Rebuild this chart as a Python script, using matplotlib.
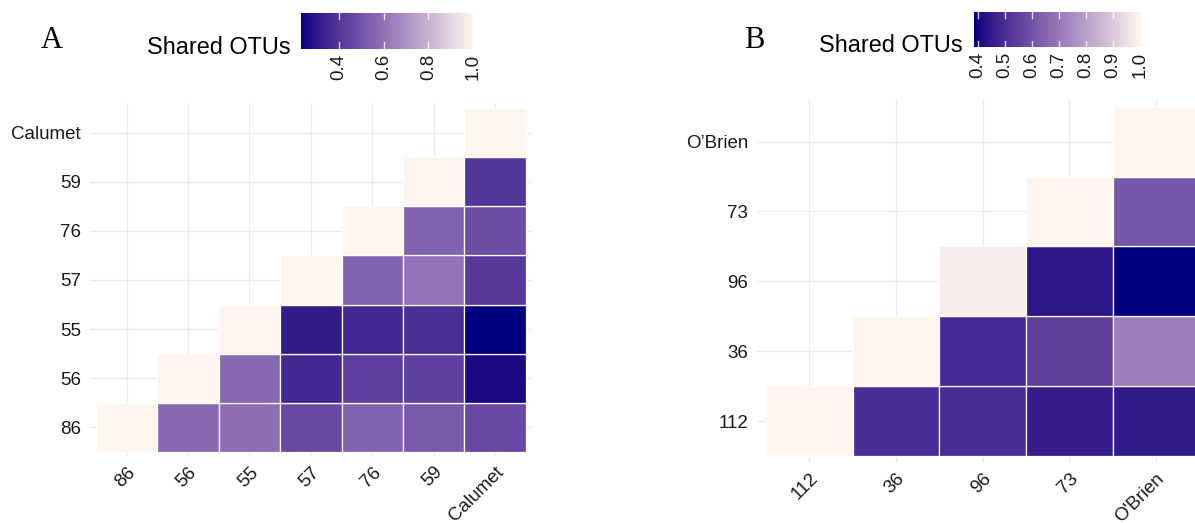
import numpy as np
import matplotlib
matplotlib.use("Agg")
import matplotlib.pyplot as plt
from matplotlib.colors import ListedColormap, Normalize
import matplotlib.transforms as mtrans

# ---------------- data ----------------
a_x_labels = ["86", "56", "55", "57", "76", "59", "Calumet"]
a_y_labels = ["86", "56", "55", "57", "76", "59", "Calumet"]
# rows from bottom (86) to top (Calumet); None = empty cell
a_row_86 = [1.00, 0.57, 0.585, 0.46, 0.55, 0.52, 0.46]
a_row_56 = [None, 1.00, 0.57, 0.35, 0.43, 0.43, 0.26]
a_row_55 = [None, None, 1.00, 0.31, 0.35, 0.37, 0.23]
a_row_57 = [None, None, None, 1.00, 0.55, 0.60, 0.41]
a_row_76 = [None, None, None, None, 1.00, 0.55, 0.48]
a_row_59 = [None, None, None, None, None, 1.00, 0.40]
a_row_cal = [None, None, None, None, None, None, 1.00]
a_ticks = [0.4, 0.6, 0.8, 1.0]

b_x_labels = ["112", "36", "96", "73", "O'Brien"]
b_y_labels = ["112", "36", "96", "73", "O\u2019Brien"]
b_row_112 = [1.00, 0.495, 0.495, 0.455, 0.448]
b_row_36 = [None, 1.00, 0.488, 0.55, 0.71]
b_row_96 = [None, None, 0.979, 0.437, 0.386]
b_row_73 = [None, None, None, 1.00, 0.607]
b_row_ob = [None, None, None, None, 1.00]
b_ticks = [0.4, 0.5, 0.6, 0.7, 0.8, 0.9, 1.0]

# ---------------- colour scale (Lab interpolation navy -> seashell) ----------------
def _hex(h):
    h = h.lstrip("#")
    return np.array([int(h[i:i + 2], 16) / 255 for i in (0, 2, 4)])

_M = np.array([[0.4124, 0.3576, 0.1805], [0.2126, 0.7152, 0.0722], [0.0193, 0.1192, 0.9505]])
_W = np.array([0.95047, 1.0, 1.08883])

def _to_lab(rgb):
    lin = np.where(rgb <= 0.04045, rgb / 12.92, ((rgb + 0.055) / 1.055) ** 2.4)
    xyz = _M @ lin / _W
    f = np.where(xyz > 0.008856, np.cbrt(xyz), 7.787 * xyz + 16 / 116)
    return np.array([116 * f[1] - 16, 500 * (f[0] - f[1]), 200 * (f[1] - f[2])])

def _from_lab(lab):
    fy = (lab[0] + 16) / 116
    fx = fy + lab[1] / 500
    fz = fy - lab[2] / 200
    f = np.array([fx, fy, fz])
    xyz = np.where(f ** 3 > 0.008856, f ** 3, (f - 16 / 116) / 7.787) * _W
    lin = np.linalg.solve(_M, xyz)
    lin = np.clip(lin, 0, 1)
    rgb = np.where(lin <= 0.0031308, 12.92 * lin, 1.055 * lin ** (1 / 2.4) - 0.055)
    return np.clip(rgb, 0, 1)

lo, hi = _to_lab(_hex("#000080")), _to_lab(_hex("#FFF5EE"))
cmap = ListedColormap([_from_lab(lo + t * (hi - lo)) for t in np.linspace(0, 1, 256)])

# ---------------- figure ----------------
W, H = 1195, 523
fig = plt.figure(figsize=(W / 100, H / 100), dpi=100)
plt.rcParams["font.family"] = ["Liberation Sans", "DejaVu Sans"]
TXT = "#1A1A1A"
FS = 13.5

def px_axes(x0, y0, x1, y1):
    return fig.add_axes([x0 / W, 1 - y1 / H, (x1 - x0) / W, (y1 - y0) / H])

def heat(ax, rows, xl, yl, vmin, vmax):
    n = len(xl)
    data = np.array([[np.nan if v is None else v for v in r] for r in rows], dtype=float)
    norm = Normalize(vmin, vmax)
    ax.set_xlim(-0.6, n - 0.4)
    ax.set_ylim(-0.6, n - 0.4)
    for i in range(n):
        ax.axvline(i, color="#EBEBEB", lw=1.0, zorder=0)
        ax.axhline(i, color="#EBEBEB", lw=1.0, zorder=0)
    edges = np.arange(n + 1) - 0.5
    m = np.ma.masked_invalid(data)
    for r in range(n):
        for c in range(n):
            if not np.isnan(data[r, c]):
                ax.add_patch(plt.Rectangle((c - 0.5, r - 0.5), 1, 1,
                                           facecolor=cmap(norm(data[r, c])),
                                           edgecolor="white", lw=0.9, zorder=2))
    ax.set_xticks(range(n))
    ax.set_yticks(range(n))
    ax.set_xticklabels(xl, rotation=45, ha="right", va="top", rotation_mode="anchor",
                       fontsize=FS, color=TXT)
    ax.set_yticklabels(yl, fontsize=FS, color=TXT)
    ax.tick_params(length=0)
    ax.tick_params(axis="x", pad=5)
    ax.tick_params(axis="y", pad=6.5)
    for s in ax.spines.values():
        s.set_visible(False)
    ax.set_facecolor("none")

def cbar(ax, vmin, vmax, ticks):
    grad = np.linspace(vmin, vmax, 300)[None, :]
    ax.imshow(grad, cmap=cmap, norm=Normalize(vmin, vmax), aspect="auto",
              extent=(vmin, vmax, 0, 1), interpolation="bilinear")
    ax.set_xlim(vmin, vmax)
    ax.set_ylim(0, 1)
    for t in ticks:
        ax.plot([t, t], [0, 0.18], color="white", lw=1.0, alpha=0.8)
        ax.plot([t, t], [0.82, 1], color="white", lw=1.0, alpha=0.8)
        ax.text(t, -0.15, f"{t:.1f}", rotation=90, ha="center", va="top",
                fontsize=FS, color=TXT, transform=ax.transData, clip_on=False)
    ax.set_axis_off()

a_rows = [a_row_86, a_row_56, a_row_55, a_row_57, a_row_76, a_row_59, a_row_cal]
b_rows = [b_row_112, b_row_36, b_row_96, b_row_73, b_row_ob]
a_min = min(v for r in a_rows for v in r if v is not None)
a_max = max(v for r in a_rows for v in r if v is not None)
b_min = min(v for r in b_rows for v in r if v is not None)
b_max = max(v for r in b_rows for v in r if v is not None)

axA = px_axes(89.9, 103.4, 531.8, 456.6)
heat(axA, a_rows, a_x_labels, a_y_labels, a_min, a_max)
axB = px_axes(757.3, 99.7, 1208.0, 463.0)
heat(axB, b_rows, b_x_labels, b_y_labels, b_min, b_max)

cA = px_axes(301, 13, 473, 48.7)
cbar(cA, a_min, a_max, a_ticks)
cB = px_axes(974, 12, 1140, 47)
cbar(cB, b_min, b_max, b_ticks)

fig.text(291 / W, 1 - 48 / H, "Shared OTUs", ha="right", va="center", fontsize=16.9, color="black")
fig.text(963 / W, 1 - 46 / H, "Shared OTUs", ha="right", va="center", fontsize=16.9, color="black")
fig.text(52 / W, 1 - 40 / H, "A", ha="center", va="center", fontsize=22,
         family=["Liberation Serif", "DejaVu Serif"])
fig.text(754 / W, 1 - 41 / H, "B", ha="center", va="center", fontsize=22,
         family=["Liberation Serif", "DejaVu Serif"])

fig.savefig("out.png", dpi=100, facecolor="white")
